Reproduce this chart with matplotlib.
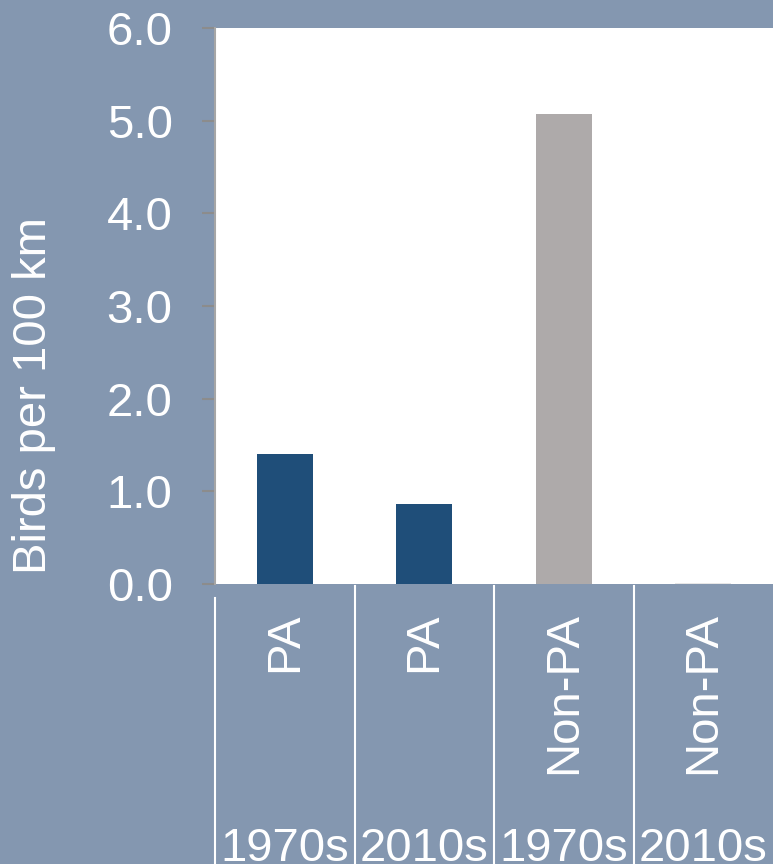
import numpy as np
import matplotlib.pyplot as plt
from matplotlib import transforms

plt.rcParams['font.family'] = ['Liberation Sans', 'DejaVu Sans']

# data
groups = ['PA', 'PA', 'Non-PA', 'Non-PA']
periods = ['1970s', '2010s', '1970s', '2010s']
birds = [1.40, 0.86, 5.07, 0.01]
bar_colors = ['#1F4E79', '#1F4E79', '#AEAAAA', '#E7E6E6']
yticks = [0.0, 1.0, 2.0, 3.0, 4.0, 5.0, 6.0]

bg = '#8497B0'
W, H = 773, 864
fig = plt.figure(figsize=(W / 100, H / 100), dpi=100)
fig.patch.set_facecolor(bg)

ax = fig.add_axes([215 / W, (H - 584) / H, 558 / W, 556 / H])
ax.set_facecolor('white')

x = np.arange(len(birds))
ax.bar(x, birds, width=0.4, color=bar_colors)
ax.set_xlim(-0.5, 3.5)
ax.set_ylim(0, 6)
ax.set_yticks(yticks)
ax.set_yticklabels(['%.1f' % v for v in yticks])
ax.tick_params(axis='y', colors='#8c8c8c', labelcolor='white', labelsize=34,
               length=9.5, width=1.5, direction='out', pad=21)
ax.set_xticks([])
for s in ['top', 'right', 'bottom']:
    ax.spines[s].set_visible(False)
ax.spines['left'].set_color('#a6a6a6')
ax.spines['left'].set_linewidth(1.5)

fig.text(34 / W, (H - 395) / H, 'Birds per 100 km', rotation=90, color='white',
         fontsize=34, ha='center', va='center')

# category labels below the axis
trans = transforms.blended_transform_factory(ax.transData, fig.transFigure)
for i in range(len(groups)):
    fig.text(x[i], (H - 612) / H, groups[i], transform=trans, rotation=90,
             color='white', fontsize=34, ha='center', va='top')
    fig.text(x[i], (H - 861) / H, periods[i], transform=trans,
             color='white', fontsize=34, ha='center', va='baseline')

for i, xs in enumerate([-0.5, 0.5, 1.5, 2.5]):
    top = 598 if i == 0 else 586
    fig.add_artist(plt.Line2D([xs, xs], [0, (H - top) / H], transform=trans,
                              color='white', lw=1.5))

fig.savefig('out.png', dpi=100, facecolor=bg)
